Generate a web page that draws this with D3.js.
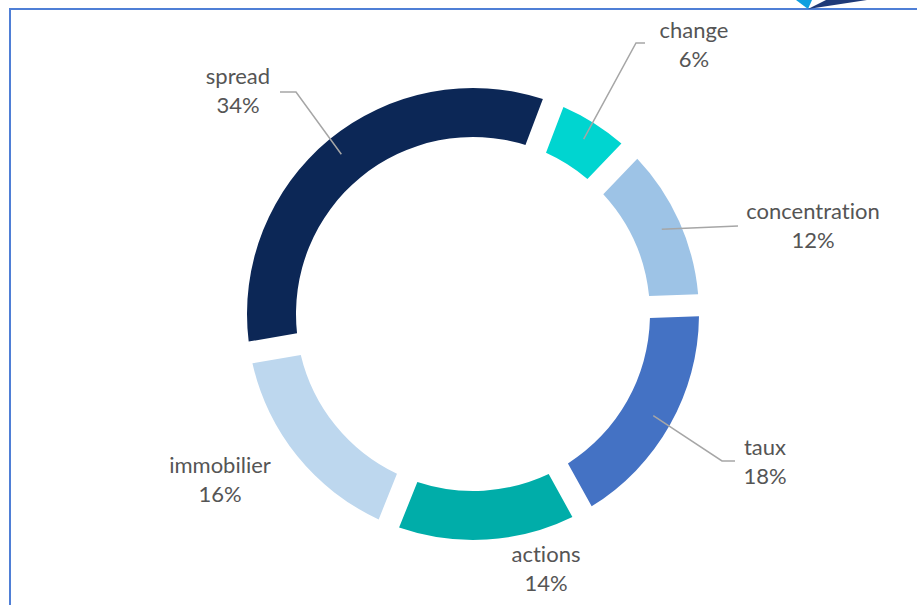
<!DOCTYPE html>
<html><head><meta charset="utf-8">
<script src="https://cdn.jsdelivr.net/npm/d3@7"></script>
<style>html,body{margin:0;padding:0;background:#fff;}svg{display:block;}text{font-variant-ligatures:none;font-feature-settings:"liga" 0,"clig" 0;}</style>
</head><body>
<svg id="chart" width="917" height="605"></svg>
<script>
// ---- data ----
const categories = ["change", "concentration", "taux", "actions", "immobilier", "spread"];
const values = [6.4, 12.2, 17.6, 14.1, 16.2, 33.5];
const labelTexts = ["6%", "12%", "18%", "14%", "16%", "34%"];
const colors = ["#00D5D0", "#9DC3E6", "#4472C4", "#00ADA9", "#BDD7EE", "#0C2756"];

// ---- layout ----
const W = 917, H = 605;
const cx = 473, cy = 314;
const outerR = 226, innerR = 177;
const startDeg = 20.8;
const gapPx = 22;
const labelLayout = [
  {x: 694, y: 30, leader: [[636, 43], [645, 43]]},
  {x: 813, y: 211, leader: [[738, 226]]},
  {x: 765, y: 447, leader: [[722, 461], [735, 461]]},
  {x: 546, y: 554, leader: null},
  {x: 220, y: 465, leader: null},
  {x: 238, y: 76, leader: [[296, 92], [280, 92]]}
];

const svg = d3.select("#chart");

// frame
svg.append("path")
  .attr("d", `M10,${H} L10,9 L${W},9`)
  .attr("fill", "none").attr("stroke", "#4F7FD6").attr("stroke-width", 2);
// decorative corner logo
svg.append("path").attr("d", "M796,0 L808,9 L812,0 Z").attr("fill", "#0E9FE0");
svg.append("path").attr("d", "M808,9 L867,0 L826,0 Z").attr("fill", "#1F3A78");

const pie = d3.pie().value(d => d).sort(null)
  .startAngle(startDeg * Math.PI / 180)
  .endAngle((startDeg + 360) * Math.PI / 180);
const arcs = pie(values);
const padR = 200;
const arc = d3.arc().innerRadius(innerR).outerRadius(outerR)
  .padAngle(gapPx / padR).padRadius(padR);
const leaderArc = d3.arc().innerRadius(207).outerRadius(207);

const g = svg.append("g").attr("transform", `translate(${cx},${cy})`);
g.selectAll("path.slice").data(arcs).enter().append("path")
  .attr("class", "slice")
  .attr("d", arc)
  .attr("fill", (d, i) => colors[i]);

// leader lines
arcs.forEach((a, i) => {
  const L = labelLayout[i];
  if (!L.leader) return;
  const c = leaderArc.centroid(a);
  const pts = [[cx + c[0], cy + c[1]]].concat(L.leader);
  svg.append("path")
    .attr("d", d3.line()(pts))
    .attr("fill", "none").attr("stroke", "#A6A6A6").attr("stroke-width", 1.5);
});

// labels
arcs.forEach((a, i) => {
  const L = labelLayout[i];
  const t = svg.append("text")
    .attr("text-anchor", "middle")
    .attr("font-family", "Lato, 'Open Sans', sans-serif")
    .attr("font-size", 22)
    .attr("fill", "#555555");
  t.append("tspan").attr("x", L.x).attr("y", L.y).attr("dy", "0.35em").text(categories[i]);
  t.append("tspan").attr("x", L.x).attr("y", L.y + 29).attr("dy", "0.35em").text(labelTexts[i]);
});
</script>
</body></html>
